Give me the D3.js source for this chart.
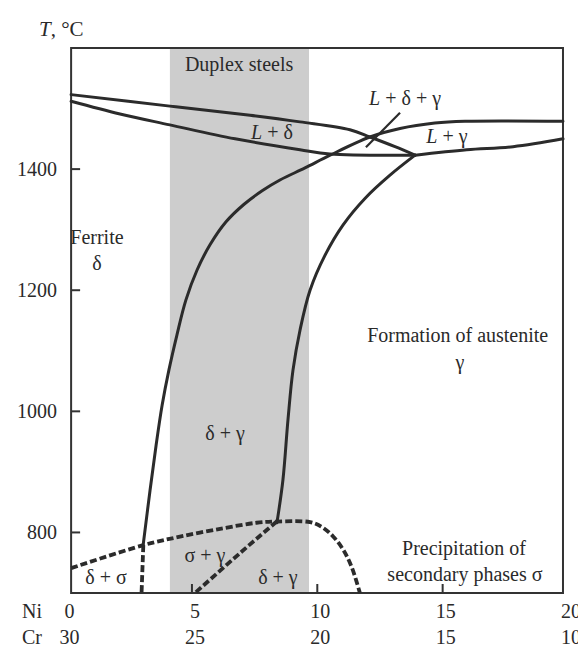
<!DOCTYPE html>
<html>
<head>
<meta charset="utf-8">
<script src="https://cdn.jsdelivr.net/npm/d3@7/dist/d3.min.js"></script>
<style>
  html, body { margin: 0; padding: 0; background: #fff; }
  svg { display: block; }
  text { font-family: "Liberation Serif", "DejaVu Serif", serif; fill: #2a2a2a; }
</style>
</head>
<body>
<svg id="chart" width="578" height="649"></svg>
<script>
// ---------- data ----------
const niTicks = [0, 5, 10, 15, 20];
const crTicks = [30, 25, 20, 15, 10];
const tTicks = [800, 1000, 1200, 1400];
const niFrame = [0.18, 19.8];
const tFrame = [700, 1600];
const duplexRange = [4.12, 9.67];

// solid phase boundaries [Ni, T]
const deltaLiquidus = [[0.18,1523],[4.12,1504],[7.32,1489],[9.31,1478],[11.30,1465],[12.10,1453],[13.10,1437],[13.90,1423]];
const deltaSolidus = [[0.18,1512],[2.13,1491],[4.12,1473],[6.72,1450],[9.31,1432],[10.50,1425],[13.90,1423]];
const gammaSolidus = [[13.90,1423],[15.96,1432],[17.81,1437],[19.80,1450]];
const deltaGammaLeft = [[3.05,778],[3.33,870],[3.57,944],[3.81,1010],[4.08,1068],[4.40,1126],[4.76,1184],[5.20,1233],[5.72,1275],[6.36,1313],[7.08,1342],[7.83,1365],[8.51,1382],[9.51,1402],[10.51,1423],[12.10,1453],[13.30,1467],[14.69,1476],[15.89,1479],[19.80,1479]];
const deltaGammaRight = [[8.39,816],[8.63,887],[8.83,986],[9.03,1068],[9.31,1134],[9.71,1200],[10.31,1258],[11.03,1308],[11.91,1352],[12.90,1390],[13.90,1423]];

// dashed boundaries
const sigmaSolvus = [[0.18,741],[3.06,779],[4.52,793],[6.25,807],[7.58,816],[8.38,818],[9.71,817],[10.18,809],[10.64,793],[11.04,771],[11.37,743],[11.70,700]];
const sigmaLeft = [[3.06,779],[2.99,700]];
const sigmaDiag = [[8.38,818],[6.92,766],[5.12,700]];

// leader line of the three-phase label
const leader = [[11.94,1436],[13.30,1493]];

// region labels [text parts, Ni, T]
const labels = [
  {parts:[["Duplex steels",""]], ni:6.88, t:1574},
  {parts:[["L","italic"],[" + δ + γ",""]], ni:13.5, t:1517},
  {parts:[["L","italic"],[" + δ",""]], ni:8.19, t:1461},
  {parts:[["L","italic"],[" + γ",""]], ni:15.17, t:1455},
  {parts:[["Ferrite",""]], ni:1.21, t:1288},
  {parts:[["δ",""]], ni:1.21, t:1245},
  {parts:[["Formation of austenite",""]], ni:15.6, t:1126},
  {parts:[["γ",""]], ni:15.69, t:1081},
  {parts:[["δ + γ",""]], ni:6.32, t:964},
  {parts:[["σ + γ",""]], ni:5.52, t:763},
  {parts:[["δ + γ",""]], ni:8.43, t:726},
  {parts:[["δ + σ",""]], ni:1.57, t:726},
  {parts:[["Precipitation of",""]], ni:15.85, t:774},
  {parts:[["secondary phases σ",""]], ni:15.89, t:731}
];

// ---------- drawing ----------
const FS = 20;
const svg = d3.select("#chart");
const x = d3.scaleLinear().domain([0, 20]).range([66.6, 568]);
const y = d3.scaleLinear().domain([700, 1600]).range([593, 48]);

const x0 = x(niFrame[0]), x1 = x(niFrame[1]);
const y0 = y(tFrame[0]), y1 = y(tFrame[1]);

// duplex band
svg.append("rect")
  .attr("x", x(duplexRange[0])).attr("y", y1)
  .attr("width", x(duplexRange[1]) - x(duplexRange[0]))
  .attr("height", y0 - y1)
  .attr("fill", "#cdcdcd");

// ticks
svg.selectAll(".ytick").data(tTicks).enter().append("line")
  .attr("x1", x0).attr("x2", x0 + 9)
  .attr("y1", d => y(d)).attr("y2", d => y(d))
  .attr("stroke", "#333").attr("stroke-width", 2);
svg.selectAll(".xtick").data(niTicks.filter(d => x(d) > x0 + 2 && x(d) < x1 - 2)).enter().append("line")
  .attr("x1", d => x(d)).attr("x2", d => x(d))
  .attr("y1", y0).attr("y2", y0 - 9)
  .attr("stroke", "#333").attr("stroke-width", 2);

// frame
svg.append("rect")
  .attr("x", x0).attr("y", y1).attr("width", x1 - x0).attr("height", y0 - y1)
  .attr("fill", "none").attr("stroke", "#333").attr("stroke-width", 2);

const line = d3.line().x(d => x(d[0])).y(d => y(d[1])).curve(d3.curveCatmullRom.alpha(0.5));
const straight = d3.line().x(d => x(d[0])).y(d => y(d[1]));

[deltaLiquidus, deltaSolidus, gammaSolidus, deltaGammaLeft, deltaGammaRight].forEach(c => {
  svg.append("path").attr("d", line(c))
    .attr("fill", "none").attr("stroke", "#2b2b2b").attr("stroke-width", 3)
    .attr("stroke-linejoin", "round").attr("stroke-linecap", "round");
});

[sigmaSolvus, sigmaLeft, sigmaDiag].forEach(c => {
  svg.append("path").attr("d", (c.length > 2 ? line : straight)(c))
    .attr("fill", "none").attr("stroke", "#2b2b2b").attr("stroke-width", 3.8)
    .attr("stroke-dasharray", "7,3");
});

svg.append("path").attr("d", straight(leader))
  .attr("fill", "none").attr("stroke", "#2b2b2b").attr("stroke-width", 2.2);

// region labels
labels.forEach(l => {
  const t = svg.append("text")
    .attr("x", x(l.ni)).attr("y", y(l.t)).attr("dy", "0.35em")
    .attr("text-anchor", "middle").attr("font-size", FS);
  l.parts.forEach(p => {
    t.append("tspan").text(p[0]).attr("font-style", p[1] === "italic" ? "italic" : null);
  });
});

// y tick labels
svg.selectAll(".ylab").data(tTicks).enter().append("text")
  .attr("x", 57).attr("y", d => y(d)).attr("dy", "0.35em")
  .attr("text-anchor", "end").attr("font-size", FS)
  .text(d => d);

// axis title
const tt = svg.append("text").attr("x", 39).attr("y", 36).attr("font-size", 21);
tt.append("tspan").attr("font-style", "italic").text("T");
tt.append("tspan").text(", °C");

// x rows
svg.append("text").attr("x", 22).attr("y", 618).attr("font-size", FS).text("Ni");
svg.append("text").attr("x", 22).attr("y", 644).attr("font-size", FS).text("Cr");
svg.selectAll(".nilab").data(niTicks).enter().append("text")
  .attr("x", d => x(d) + 3).attr("y", 618).attr("text-anchor", "middle").attr("font-size", FS)
  .text(d => d);
svg.selectAll(".crlab").data(crTicks).enter().append("text")
  .attr("x", (d, i) => x(niTicks[i]) + 3).attr("y", 644).attr("text-anchor", "middle").attr("font-size", FS)
  .text(d => d);
</script>
</body>
</html>
